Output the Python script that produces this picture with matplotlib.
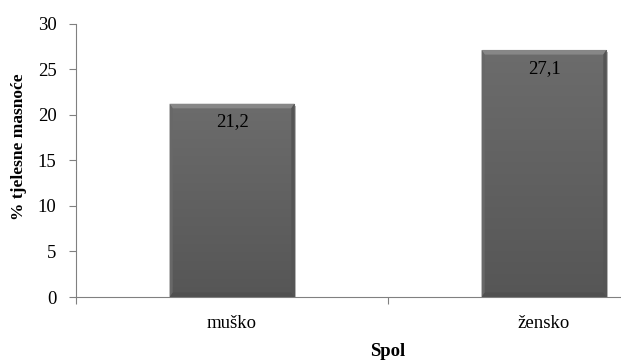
import matplotlib.pyplot as plt
import matplotlib.patheffects as pe
from matplotlib.patches import Polygon
import numpy as np

# Podaci
spol = ['muško', 'žensko']
masnoca = [21.2, 27.1]
oznake = ['21,2', '27,1']

plt.rcParams['font.family'] = ['Liberation Serif', 'DejaVu Serif']

fig = plt.figure(figsize=(6.21, 3.61), dpi=100)
# os se proteže preko desnog ruba slike kao u originalu
ax = fig.add_axes([76 / 621, 64 / 361, 624 / 621, 273.4 / 361])

x = np.arange(len(spol))
sirina = 0.40
barovi = ax.bar(x, masnoca, width=sirina, color='#616161', edgecolor='#4a4a4a',
                linewidth=0.8, zorder=3)

# okomiti gradijent: tamnije dolje, svjetlije gore
sivo = np.linspace(0x56, 0x6c, 100) / 255
gradijent = np.repeat(sivo.reshape(-1, 1, 1), 3, axis=2)
for b in barovi:
    b.set_path_effects([pe.SimplePatchShadow(offset=(1.5, -1.5), alpha=0.3), pe.Normal()])
    x0, x1 = b.get_x(), b.get_x() + b.get_width()
    h = b.get_height()
    img = ax.imshow(gradijent, extent=(x0, x1, 0, h), origin='lower', aspect='auto',
                    zorder=3.5)
    img.set_clip_path(b)
    # reljef: svijetli vrh, tamnije dno i strane
    dx, dy = 0.010, 0.5
    ax.add_patch(Polygon([(x0, h), (x1, h), (x1 - dx, h - dy), (x0 + dx, h - dy)],
                         closed=True, color='#878787', lw=0, zorder=4))
    ax.add_patch(Polygon([(x0, 0), (x1, 0), (x1 - dx, dy), (x0 + dx, dy)],
                         closed=True, color='#505050', lw=0, zorder=4))
    ax.add_patch(Polygon([(x0, 0), (x0 + dx, dy), (x0 + dx, h - dy), (x0, h)],
                         closed=True, color='#686868', lw=0, zorder=4))
    ax.add_patch(Polygon([(x1, 0), (x1 - dx, dy), (x1 - dx, h - dy), (x1, h)],
                         closed=True, color='#555555', lw=0, zorder=4))

for xi, v, t in zip(x, masnoca, oznake):
    ax.annotate(t, (xi, v), xytext=(0, -7), textcoords='offset points',
                ha='center', va='top', fontsize=13.5, zorder=5)

ax.set_xlim(-0.5, 1.5)
ax.set_ylim(0, 30)
ax.set_yticks(range(0, 31, 5))
ax.set_xticks([-0.5, 0.5, 1.5])
ax.set_xticklabels([])
ax.set_xticks(x, minor=True)
ax.set_xticklabels(spol, minor=True, fontsize=13.5)
ax.tick_params(axis='x', which='minor', length=0, pad=13)
ax.tick_params(axis='x', which='major', length=5, color='#808080', direction='out')
ax.tick_params(axis='y', length=5, color='#808080', pad=9, labelsize=13.5)

for s in ['top', 'right']:
    ax.spines[s].set_visible(False)
for s in ['left', 'bottom']:
    ax.spines[s].set_color('#808080')
    ax.spines[s].set_zorder(6)

ax.set_ylabel('% tjelesne masnoće', fontsize=12.5, fontweight='bold')
ax.yaxis.set_label_coords(-0.078, 0.55)
ax.set_xlabel('Spol', fontsize=13.5, fontweight='bold', labelpad=8)

fig.savefig('out.png', dpi=100)
